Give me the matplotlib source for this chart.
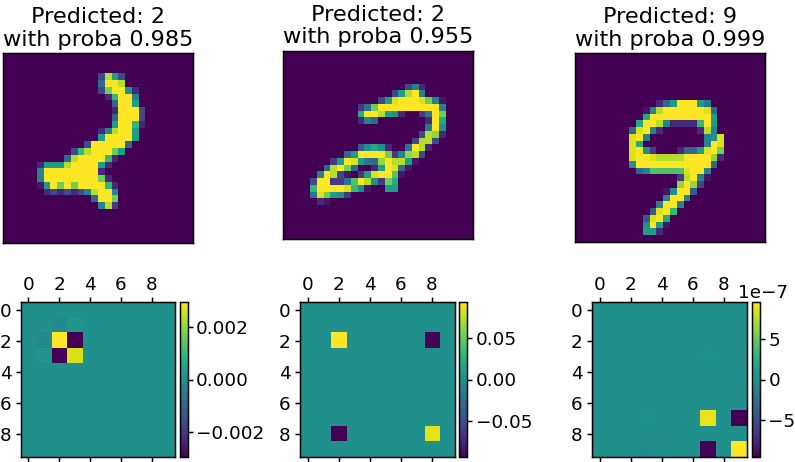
import numpy as np
import matplotlib
matplotlib.use("Agg")
import matplotlib.pyplot as plt

W, H = 795, 462

titles = ["Predicted: 2\nwith proba 0.985", "Predicted: 2\nwith proba 0.955", "Predicted: 9\nwith proba 0.999"]

# digit rows: row -> (first column, intensities on a 0-9 scale)
digit_a = {
 3:(14,[2,8,5,2]), 4:(14,[3,9,9,8]), 5:(14,[2,7,9,9,4.5,1]), 6:(15,[1,6,9,9,4]),
 7:(16,[3,9,9,5]), 8:(16,[1,9,9,9,2]), 9:(16,[3,9,9,9,2]), 10:(16,[5,9,9,6,1]),
 11:(14,[1,4,8,9,9,5]), 12:(14,[5,9,9,9,9,5]), 13:(12,[2,9,9,9,9,9,3]),
 14:(10,[2,6,8,9,9,9,7,5]), 15:(9,[3,8,9,9,9,9,6,1]),
 16:(5,[1,5,5,5,8,9,9,9,9,5,1]), 17:(5,[4,9,9,9,9,9,9,9,9,1]),
 18:(5,[4,9,9,9,9,9,9,9,9,7,1]), 19:(5,[0.5,5,9,7,9,7,9,9,9,9,6,1]),
 20:(6,[1,2,1,2,1,2,4,8,9,9,4]), 21:(13,[3,9,9,7]), 22:(14,[4,8,1.5]),
}
digit_b = {
 5:(18,[2,4,1]), 6:(16,[2,5,8,9,4]), 7:(14,[2,5,8.5,9,9,9,8.5,7,4,0.5]),
 8:(11,[1.5,3.5,7,9,9,9,9,9,9,9,9,9,4]),
 9:(11,[5.5,9,9,8,5,4.5,1,0,0,1.5,3.5,9,7]),
 10:(11,[1,4,3,0,0,0,0,0,0,0,1,9,5.5]), 11:(21,[3.5,9,4.5]), 12:(20,[2,8,7.5,1]),
 13:(19,[2,8,8,2]), 14:(11,[2.5,4.5,5.5,4.5,1,0,0,3.5,9,8,1]),
 15:(9,[3,5,9,9,9,9,7,1.5,4,7.5,8,2]),
 16:(7,[1.5,5,9,8.5,5,3.5,3,7.5,9,8,8,5,0.5]),
 17:(6,[3,8,9,7,3,0,0,1,5,9,8.5,3,0.5]),
 18:(5,[4,9,8,2,0.5,0,1.5,5,8.5,9,9,6.5,0.5]),
 19:(4,[2,9,9,1.5,1.5,3.5,6.5,9,8,4.5,1.5,7,5.5]),
 20:(4,[6,9,9,9,9,8.5,6,4.5,0.5,0,0,5,5]),
 21:(4,[3.5,8.5,7,5,4.5,1.5]), 22:(5,[1,0.5]),
}
digit_c = {
 7:(12,[1,3,5,9,9,9,5,3.5]), 8:(10,[0.5,4,8,9,9,9,9,9,9,8.5,3]),
 9:(10,[5.5,9,9,9,9,9,9,9,9,9,5]),
 10:(9,[5.5,9,9,8,4,1,1,1,1,6,9,5]), 11:(8,[3,8.5,9,4,1,0,0,0,0,0,1,8,4]),
 12:(8,[8.5,9,4,0,0,0,0,0,0,0,0,4,4.5,8.5]),
 13:(8,[8.5,5.5,0,0,0,0,0,0,0,0,0,4,9,8.5]),
 14:(8,[8.5,9,4.5,1.5,0,0,0,1,3,3,5,8.5,9,7]),
 15:(8,[8.5,9,9,8.5,8,8,8,8,9,9,9,9,7.5,1]),
 16:(8,[4.5,9,9,9,9,9,9,9,9,9,9,9,3]),
 17:(9,[3,4,6.5,6.5,6.5,6.5,6.5,8.5,9,9,4]),
 18:(15,[1.5,8,9,4,0.5]), 19:(15,[7.5,9,7.5,2]), 20:(13,[0.5,4.5,9,9,2.5]),
 21:(13,[4,9,9,4]), 22:(12,[4,9,9,4]), 23:(11,[2.5,8.5,9,6]),
 24:(10,[2.5,8.5,9,5.5]), 25:(10,[4.5,9,5,0.5]), 26:(10,[5,5,1]),
}

# explanation matrices: (row, column) -> value
expl_a = {(1,2):-0.00015,(1,3):0.00012,(2,1):-0.00015,(3,1):0.00012,
          (2,2):0.00295,(2,3):-0.00295,(3,2):-0.0029,(3,3):0.0026}
expl_b = {(2,2):0.094,(2,8):-0.092,(8,2):-0.094,(8,8):0.086,(2,3):-0.001,(1,2):-0.0005}
expl_c = {(7,7):8.8e-7,(7,9):-9.5e-7,(9,7):-9.3e-7,(9,9):9.5e-7,
          (3,7):0.25e-7,(3,9):-0.2e-7,(4,9):-0.15e-7,(7,3):0.25e-7,(9,3):-0.3e-7,(9,4):-0.1e-7}
limits = [0.00295, 0.094, 9.5e-7]
cbar_ticks = [[-0.002,0,0.002],[-0.05,0,0.05],[-5e-7,0,5e-7]]

def to_grid(rows):
    g = np.zeros((28,28))
    for r,(c,vals) in rows.items():
        g[r,c:c+len(vals)] = vals
    return g

def to_mat(cells):
    m = np.zeros((10,10))
    for (r,c),v in cells.items():
        m[r,c] = v
    return m

def box(x0,y0,x1,y1):
    return [x0/W, 1-y1/H, (x1-x0)/W, (y1-y0)/H]

SC = 1.345
plt.rcParams.update({"font.family":"DejaVu Sans","font.size":13.2,
    "axes.linewidth":0.8*SC,"xtick.major.width":0.8*SC,"ytick.major.width":0.8*SC,
    "xtick.major.size":3.5,"ytick.major.size":3.5,
    "xtick.major.pad":2.0,"ytick.major.pad":3.2})
fig = plt.figure(figsize=(W/100,H/100),dpi=100)

img_boxes = [(3,53,193,243),(283.3,50.7,473,239),(575.3,53.3,765,242)]
hm_boxes = [(20.5,302,175,457),(300,302,455,457),(592,302,747,457)]
cb_boxes = [(179.5,302,187.7,457),(459.3,302,467.3,457),(751.7,302,760,457)]

for i,(d,e) in enumerate(zip([digit_a,digit_b,digit_c],[expl_a,expl_b,expl_c])):
    ax = fig.add_axes(box(*img_boxes[i]))
    ax.imshow(to_grid(d),cmap="viridis",vmin=0,vmax=9,aspect="auto",interpolation="nearest")
    ax.set_xticks([]); ax.set_yticks([])
    ax.set_title(titles[i],fontsize=12*SC,pad=5.4,linespacing=1.15)
    hx = fig.add_axes(box(*hm_boxes[i]))
    im = hx.imshow(to_mat(e),cmap="viridis",vmin=-limits[i],vmax=limits[i],aspect="auto",interpolation="nearest")
    hx.set_xticks(range(0,10,2)); hx.set_yticks(range(0,10,2))
    hx.tick_params(top=True,bottom=True,labeltop=True,labelbottom=False)
    cx = fig.add_axes(box(*cb_boxes[i]))
    cb = fig.colorbar(im,cax=cx,ticks=cbar_ticks[i])
    cx.tick_params(pad=2.6)
    off = cx.yaxis.get_offset_text()
    off.set_horizontalalignment("left")
    off.set_x(-1.65)

fig.savefig("out.png",dpi=100)
